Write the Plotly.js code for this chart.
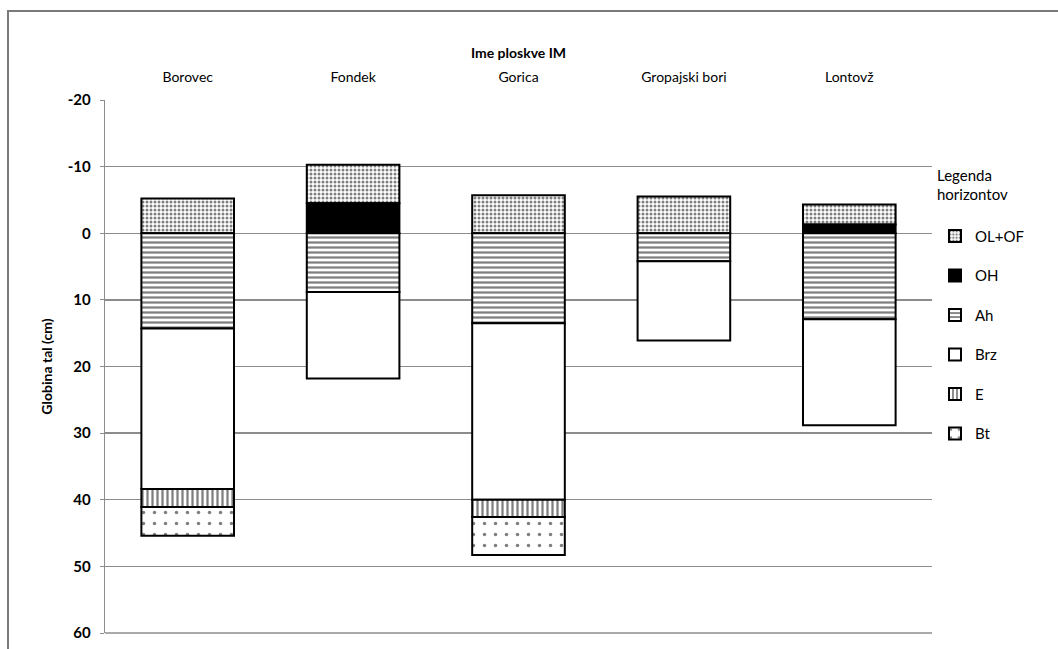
<!DOCTYPE html>
<html>
<head>
<meta charset="utf-8">
<script src="https://cdn.plot.ly/plotly-3.0.1.min.js"></script>
<style>html,body{margin:0;padding:0;background:#fff;}#chart{width:1058px;height:649px;}</style>
</head>
<body>
<div id="chart"></div>
<script>
// Categories (plots)
const categories = ['Borovec', 'Fondek', 'Gorica', 'Gropajski bori', 'Lontovž'];
// Horizon names
const horizonNames = ['OL+OF', 'OH', 'Ah', 'Brz', 'E', 'Bt'];
// Upper and lower boundaries of each horizon (cm, negative = above mineral soil)
const olofUpper = [-5.2, -10.3, -5.7, -5.5, -4.3];
const olofLower = [0, -4.5, 0, 0, -1.3];
const ohUpper = [null, -4.5, null, null, -1.3];
const ohLower = [null, 0, null, null, 0];
const ahUpper = [0, 0, 0, 0, 0];
const ahLower = [14.3, 8.8, 13.5, 4.2, 12.9];
const brzUpper = [14.3, 8.8, 13.5, 4.2, 12.9];
const brzLower = [38.4, 21.8, 40.0, 16.1, 28.8];
const eUpper = [38.4, null, 40.0, null, null];
const eLower = [41.1, null, 42.6, null, null];
const btUpper = [41.1, null, 42.6, null, null];
const btLower = [45.4, null, 48.3, null, null];
const yTicks = [-20, -10, 0, 10, 20, 30, 40, 50, 60];
const yTickText = ['-20', '-10', '0', '10', '20', '30', '40', '50', '60'];

const uppers = [olofUpper, ohUpper, ahUpper, brzUpper, eUpper, btUpper];
const lowers = [olofLower, ohLower, ahLower, brzLower, eLower, btLower];
const styles = [
  {color: '#ffffff', pattern: {shape: '.', size: 4, solidity: 0.45, fgcolor: '#000', bgcolor: '#fff', fillmode: 'overlay'}},
  {color: '#000000', pattern: {shape: ''}},
  {color: '#ffffff', pattern: {shape: '-', size: 5, solidity: 0.45, fgcolor: '#000', bgcolor: '#fff', fillmode: 'overlay'}},
  {color: '#ffffff', pattern: {shape: ''}},
  {color: '#ffffff', pattern: {shape: '|', size: 5, solidity: 0.45, fgcolor: '#000', bgcolor: '#fff', fillmode: 'overlay'}},
  {color: '#ffffff', pattern: {shape: '.', size: 11, solidity: 0.08, fgcolor: '#000', bgcolor: '#fff', fillmode: 'overlay'}}
];

const traces = horizonNames.map((name, i) => ({
  type: 'bar',
  name: name,
  x: categories,
  base: uppers[i],
  y: uppers[i].map((u, j) => (u === null ? null : lowers[i][j] - u)),
  width: 0.56,
  legendgroup: name,
  marker: {
    color: styles[i].color,
    pattern: styles[i].pattern,
    line: {color: '#000', width: 2}
  },
  hoverinfo: 'skip'
}));

const layout = {
  width: 1058,
  height: 649,
  margin: {l: 105, r: 126, t: 100, b: 16},
  paper_bgcolor: '#fff',
  plot_bgcolor: '#fff',
  barmode: 'overlay',
  showlegend: true,
  font: {family: 'Lato, "Open Sans", sans-serif', color: '#000', size: 14},
  xaxis: {
    side: 'top',
    type: 'category',
    showgrid: false,
    zeroline: false,
    showline: false,
    ticks: '',
    ticklabelstandoff: 14,
    tickfont: {size: 14, color: '#000'},
    title: {text: 'Ime ploskve IM', font: {size: 14, weight: 'bold', color: '#000'}, standoff: 6},
    automargin: false,
    fixedrange: true
  },
  yaxis: {
    range: [60, -20],
    tickvals: yTicks,
    ticktext: yTickText,
    showgrid: true,
    gridcolor: '#8c8c8c',
    gridwidth: 1.3,
    zeroline: false,
    showline: true,
    linecolor: '#8c8c8c',
    linewidth: 1.3,
    ticks: 'outside',
    ticklen: 4,
    tickcolor: '#8c8c8c',
    ticklabelstandoff: 6,
    tickfont: {size: 15, weight: 'bold', color: '#000'},
    title: {text: 'Globina tal (cm)', font: {size: 14, weight: 'bold', color: '#000'}, standoff: 11},
    automargin: false,
    fixedrange: true
  },
  legend: {
    x: 1.0036,
    xanchor: 'left',
    y: 0.885,
    yanchor: 'top',
    traceorder: 'grouped',
    tracegroupgap: 17,
    bgcolor: 'rgba(0,0,0,0)',
    font: {size: 15, color: '#000'},
    title: {text: 'Legenda<br>horizontov<br> ', font: {size: 15, color: '#000'}}
  },
  shapes: [
    {type: 'path', xref: 'paper', yref: 'paper',
     path: 'M -0.1173 -0.1 L -0.1173 1.167 L 1.2 1.167',
     line: {color: '#7a7a7a', width: 2}},
    {type: 'line', xref: 'paper', yref: 'paper', x0: 0, x1: 1, y0: 0, y1: 0,
     line: {color: '#8c8c8c', width: 1.3}}
  ]
};

Plotly.newPlot('chart', traces, layout, {displayModeBar: false, staticPlot: true});
</script>
</body>
</html>
